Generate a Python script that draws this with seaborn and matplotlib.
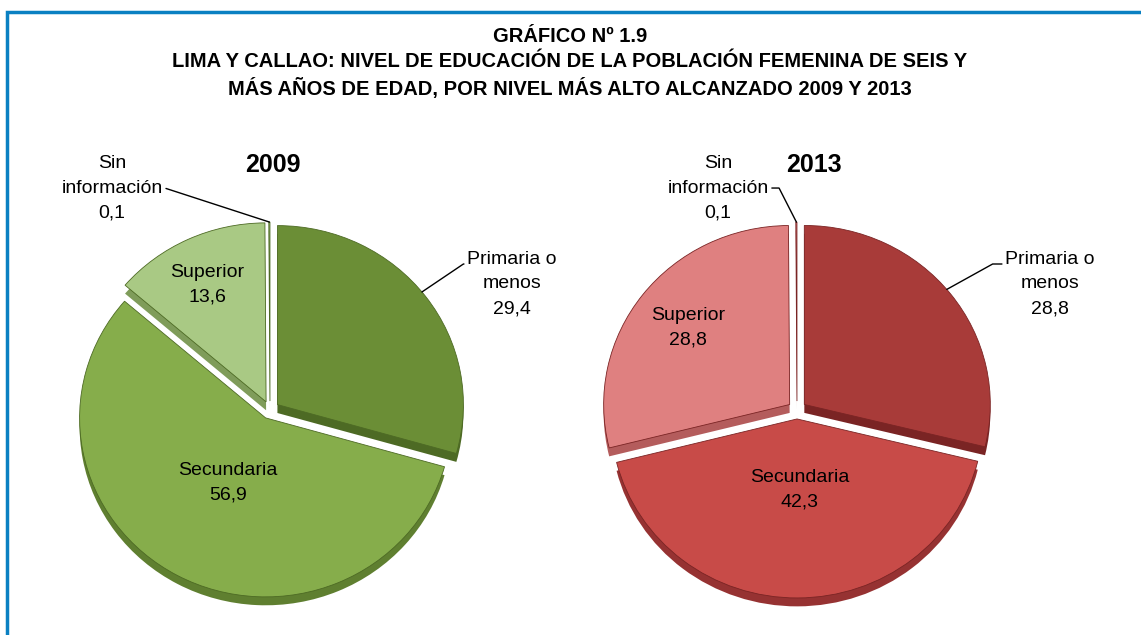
import matplotlib
matplotlib.use("Agg")
import numpy as np
import matplotlib.pyplot as plt
import seaborn as sns
from matplotlib.patches import Rectangle

# datos
categorias = ["Primaria o\nmenos", "Secundaria", "Superior", "Sin\ninformación"]
valores_2009 = [29.4, 56.9, 13.6, 0.1]
valores_2013 = [28.8, 42.3, 28.8, 0.1]
anios = ["2009", "2013"]

colores_2009 = ["#6b8e36", "#86ad4b", "#a9c984", "#a9c984"]
sombra_2009 = ["#4d6a24", "#5f7f30", "#7f9c5a", "#7f9c5a"]
colores_2013 = ["#a83b39", "#c84b48", "#df8080", "#df8080"]
sombra_2013 = ["#7a2424", "#963232", "#b45c5c", "#b45c5c"]

titulo = ("GRÁFICO Nº 1.9\n"
          "LIMA Y CALLAO: NIVEL DE EDUCACIÓN DE LA POBLACIÓN FEMENINA DE SEIS Y\n"
          "MÁS AÑOS DE EDAD, POR NIVEL MÁS ALTO ALCANZADO 2009 Y 2013")

sns.set_theme(style="white")
plt.rcParams['font.family'] = ['Liberation Sans', 'DejaVu Sans']
plt.rcParams['text.color'] = 'black'

W, H = 1141, 635
fig = plt.figure(figsize=(W / 100, H / 100), dpi=100)
fig.patch.set_facecolor("white")

RX, RY = 186, 179  # radios en px (vista ligeramente inclinada)
S = 300            # medio lado de los ejes en px


def fmt(v):
    return f"{v:.1f}".replace(".", ",")


def dibujar(cx, cy, valores, colores, sombras, anio, pos):
    ax = fig.add_axes([(cx - S) / W, (H - cy - S) / H, 2 * S / W, 2 * S / H])
    ax.axis("off")
    expl = [0.05, 0.05, 0.05, 0.05]
    # cara lateral (efecto 3D)
    ax.pie(valores, colors=sombras, startangle=90, counterclock=False,
           explode=expl, center=(0, -0.047),
           wedgeprops=dict(linewidth=0))
    wedges, _ = ax.pie(valores, colors=colores, startangle=90, counterclock=False,
                       explode=expl,
                       wedgeprops=dict(linewidth=0.6, edgecolor=sombras[0]))
    ax.set_aspect("auto")
    ax.set_xlim(-S / RX, S / RX)
    ax.set_ylim(-S / RY, S / RY)

    ax.text(pos["anio"][0], pos["anio"][1], anio, ha="center", va="center",
            fontsize=18, fontweight="bold")

    # etiquetas internas
    for i in (1, 2):
        x, y = pos[i]
        ax.text(x, y, f"{categorias[i]}\n{fmt(valores[i])}", ha="center", va="center",
                fontsize=14, linespacing=1.6)

    # etiquetas externas con línea guía
    for i, relpos, angB in ((0, (0.0, 0.8), pos["angB0"]), (3, (1.0, 0.5), pos["angB3"])):
        w = wedges[i]
        a = pos["ang"][i]
        if a is None:
            a = (w.theta1 + w.theta2) / 2
        a = np.deg2rad(a)
        px = w.center[0] + w.r * np.cos(a)
        py = w.center[1] + w.r * np.sin(a)
        ax.annotate(f"{categorias[i]}\n{fmt(valores[i])}", xy=(px, py), xytext=pos[i],
                    ha="center", va="center", fontsize=14, linespacing=1.6,
                    arrowprops=dict(arrowstyle="-", color="black", lw=1.0,
                                    shrinkA=0, shrinkB=0, relpos=relpos,
                                    connectionstyle=f"angle,angleA=0,angleB={angB},rad=0"))
    return ax


dibujar(270, 410, valores_2009, colores_2009, sombra_2009, anios[0],
        {"anio": (0.016, 1.369), 1: (-0.226, -0.408), 2: (-0.339, 0.698),
         0: (1.301, 0.704), 3: (-0.849, 1.240), "ang": {0: 39, 3: None},
         "angB0": 34, "angB3": 162})

dibujar(797, 410, valores_2013, colores_2013, sombra_2013, anios[1],
        {"anio": (0.091, 1.369), 1: (0.016, -0.447), 2: (-0.586, 0.458),
         0: (1.360, 0.704), 3: (-0.425, 1.240), "ang": {0: 40, 3: None},
         "angB0": 29, "angB3": 117})

fig.text(570 / W, 1 - 63 / H, titulo, ha="center", va="center", fontsize=14.5,
         fontweight="bold", linespacing=1.4)

# marco
fig.add_artist(Rectangle((7 / W, -0.2), 1.2, 1.2 - 12 / H, transform=fig.transFigure,
                         fill=False, edgecolor="#0a80c2", linewidth=2.5))

fig.savefig("out.png", dpi=100)
